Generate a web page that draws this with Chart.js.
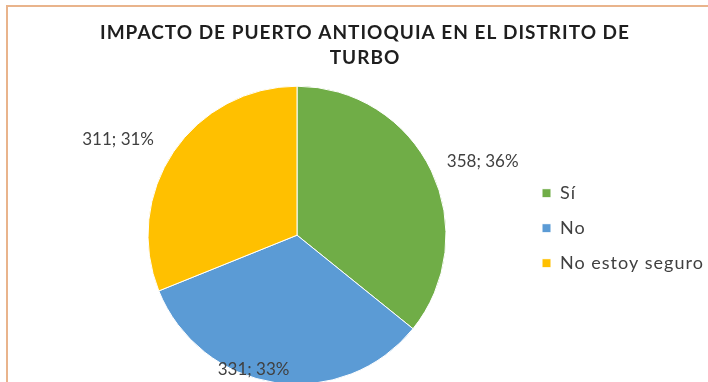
<!DOCTYPE html>
<html>
<head>
<meta charset="utf-8">
<script src="https://cdn.jsdelivr.net/npm/chart.js@4.4.1/dist/chart.umd.min.js"></script>
<style>
  html, body { margin: 0; padding: 0; background: #ffffff; overflow: hidden; }
  #contenedor { position: relative; width: 708px; height: 382px; }
</style>
</head>
<body>
<div id="contenedor">
  <canvas id="grafico" width="708" height="382"></canvas>
</div>
<script>
// datos del grafico
const categorias = ["Sí", "No", "No estoy seguro"];
const respuestas = [358, 331, 311];
const porcentajes = [36, 33, 31];
const colores = ["#70AD47", "#5B9BD5", "#FFC000"];
const tituloLineas = ["IMPACTO DE PUERTO ANTIOQUIA EN EL DISTRITO DE", "TURBO"];

// ajuste de la posicion de cada etiqueta (giro en grados, distancia relativa al radio)
const ajusteEtiquetas = [
  { giro: 4, dist: 1.34 },
  { giro: 9.4, dist: 0.95 },
  { giro: -6, dist: 1.36 },
];

// fondo, marco naranja y espaciado de letras para titulo y leyenda
const marco = {
  id: "marco",
  afterLayout(chart) {
    // la leyenda puede dibujar hasta el borde derecho y sube un poco
    const ley = chart.legend;
    ley.right = chart.width;
    ley.width = ley.right - ley.left;
    ley.bottom -= 14;
    ley.height = ley.bottom - ley.top;
  },
  beforeDraw(chart) {
    const ctx = chart.ctx;
    ctx.save();
    ctx.fillStyle = "#ffffff";
    ctx.fillRect(0, 0, chart.width, chart.height);
    ctx.strokeStyle = "#e9b48c";
    ctx.lineWidth = 2;
    ctx.beginPath();
    ctx.moveTo(7, chart.height);
    ctx.lineTo(7, 6);
    ctx.lineTo(chart.width, 6);
    ctx.stroke();
    ctx.restore();
    ctx.letterSpacing = "1px";
  },
  beforeDatasetsDraw(chart) {
    chart.ctx.letterSpacing = "0px";
  },
};

// etiquetas "valor; porcentaje" de cada porcion
const etiquetas = {
  id: "etiquetas",
  afterDatasetsDraw(chart) {
    const ctx = chart.ctx;
    const arcos = chart.getDatasetMeta(0).data;
    ctx.save();
    ctx.font = "17px Lato";
    ctx.fillStyle = "#404040";
    ctx.textAlign = "center";
    ctx.textBaseline = "middle";
    arcos.forEach(function (arco, i) {
      const p = arco.getProps(["x", "y", "startAngle", "endAngle", "outerRadius"], true);
      const ang = (p.startAngle + p.endAngle) / 2 + (ajusteEtiquetas[i].giro * Math.PI) / 180;
      const r = p.outerRadius * ajusteEtiquetas[i].dist;
      ctx.fillText(
        respuestas[i] + "; " + porcentajes[i] + "%",
        p.x + Math.cos(ang) * r,
        p.y + Math.sin(ang) * r
      );
    });
    ctx.restore();
  },
};

new Chart(document.getElementById("grafico"), {
  type: "pie",
  data: {
    labels: categorias,
    datasets: [
      {
        data: respuestas,
        backgroundColor: colores,
        borderColor: "#ffffff",
        borderWidth: 1,
        radius: 149,
      },
    ],
  },
  options: {
    responsive: false,
    animation: false,
    layout: { padding: { left: 69, right: 47, top: 0, bottom: 0 } },
    plugins: {
      title: {
        display: true,
        text: tituloLineas,
        color: "#1e1e1e",
        font: { family: "Lato", size: 19, weight: "bold", lineHeight: 1.3 },
        padding: { top: 21, bottom: 18 },
      },
      legend: {
        position: "right",
        fullSize: false,
        maxWidth: 136,
        labels: {
          color: "#404040",
          font: { family: "Lato", size: 18 },
          boxWidth: 9,
          boxHeight: 9,
          padding: 17,
        },
      },
      tooltip: { enabled: false },
    },
  },
  plugins: [marco, etiquetas],
});
</script>
</body>
</html>
